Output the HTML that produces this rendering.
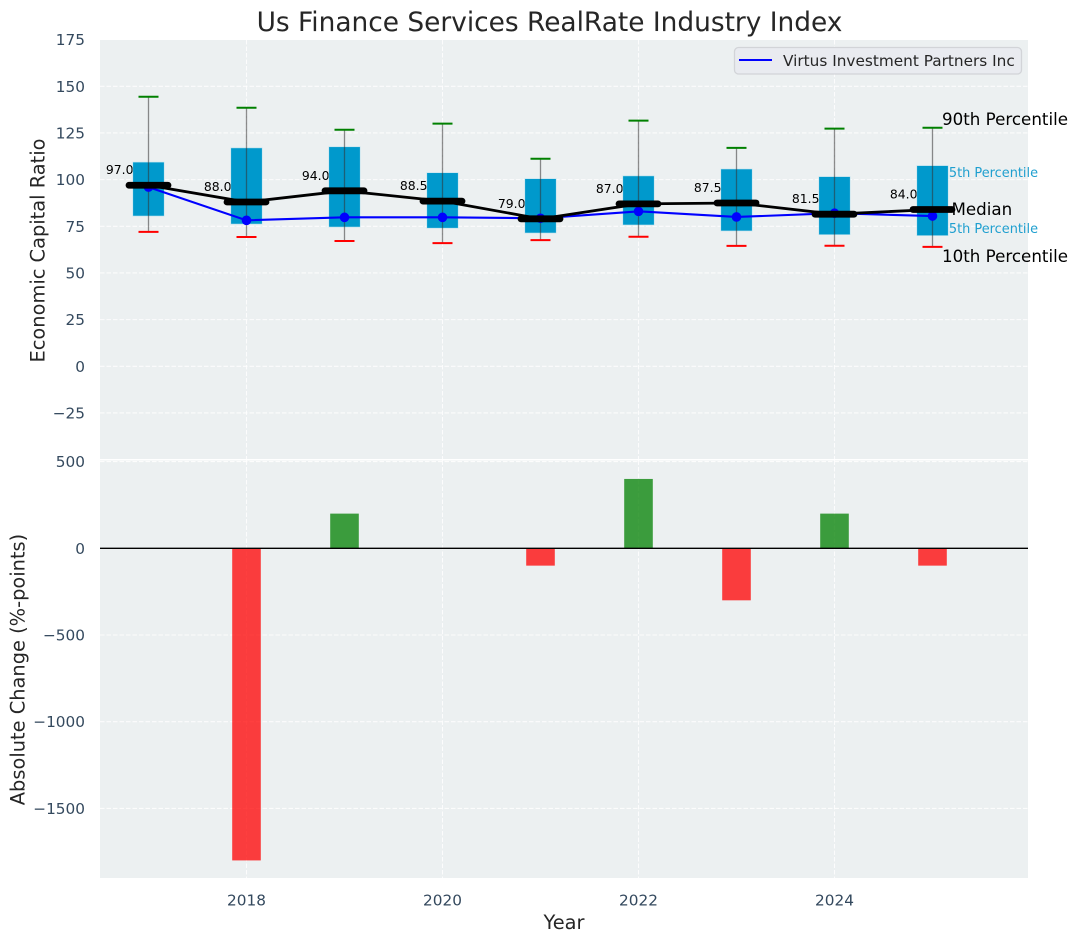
<!DOCTYPE html>
<html lang="en">
<head>
<meta charset="utf-8">
<title>Us Finance Services RealRate Industry Index</title>
<style>
html,body{margin:0;padding:0;background:#fff;}
svg{display:block;font-family:"DejaVu Sans","Liberation Sans",sans-serif;}
</style>
</head>
<body>
<svg id="chart" xmlns="http://www.w3.org/2000/svg" width="1077" height="942" viewBox="0 0 1077 942"></svg>
<script>
const years = [2017, 2018, 2019, 2020, 2021, 2022, 2023, 2024, 2025];
const p90 = [144.4, 138.5, 126.7, 130, 111.2, 131.6, 117, 127.3, 127.8];
const q3 = [109.4, 117, 117.6, 103.7, 100.5, 102, 105.7, 101.6, 107.5];
const medians = [97, 88, 94, 88.5, 79, 87, 87.5, 81.5, 84];
const q1 = [80.5, 76.2, 74.6, 74, 71.4, 75.7, 72.5, 70.5, 70];
const p10 = [72, 69.3, 67.1, 66, 67.6, 69.4, 64.5, 64.6, 64];
const company = [96, 78.2, 79.8, 79.8, 79.3, 83, 80, 82, 80.5];
const changes = [0, -1800, 200, 0, -100, 400, -300, 200, -100];
const topTicks = [175, 150, 125, 100, 75, 50, 25, 0, -25];
const bottomTicks = [500, 0, -500, -1000, -1500];
const yearTicks = [2018, 2020, 2022, 2024];

const svg = document.getElementById('chart');
const NS = 'http://www.w3.org/2000/svg';
const X = v => 148.5 + (v - 2017) * 98;
const Y1 = v => 366.3 - v * 1.8667;
const Y2 = v => 548.3 - v * 0.1734;
const L = 100, R = 1028;

function mk(tag, attrs, text) {
  const el = document.createElementNS(NS, tag);
  for (const k in attrs) el.setAttribute(k, attrs[k]);
  if (text !== undefined) el.textContent = text;
  svg.appendChild(el);
  return el;
}
function label(x, y, text, size, fill, anchor, rotate) {
  const attrs = {x: x, y: y, 'font-size': size, fill: fill, 'text-anchor': anchor || 'start'};
  if (rotate) attrs.transform = 'rotate(-90 ' + x + ' ' + y + ')';
  return mk('text', attrs, text);
}
const GRID = {stroke: '#ffffff', 'stroke-width': 1.1, 'stroke-dasharray': '4.5 2', opacity: 0.85};
const TICK = '#34495e';
const TEXT = '#262626';
let el;

el = mk('rect', {x: L, y: 40, width: R - L, height: 419, fill: '#ecf0f1'});


el = mk('rect', {x: L, y: 460.5, width: R - L, height: 417.5, fill: '#ecf0f1'});



topTicks.forEach(t => {
  if (t !== 175) {
    el = mk('line', Object.assign({x1: L, x2: R, y1: Y1(t), y2: Y1(t)}, GRID));
    
    
  }
  el = label(85, Y1(t) + 5.5, String(t).replace('-', '\u2212'), 15.3, TICK, 'end');
  
  
});
bottomTicks.forEach(t => {
  el = mk('line', Object.assign({x1: L, x2: R, y1: Y2(t), y2: Y2(t)}, GRID));
  
  
  el = label(85, Y2(t) + 5.5, String(t).replace('-', '\u2212'), 15.3, TICK, 'end');
  
  
});
yearTicks.forEach(t => {
  el = mk('line', Object.assign({x1: X(t), x2: X(t), y1: 40, y2: 459}, GRID));
  
  
  el = mk('line', Object.assign({x1: X(t), x2: X(t), y1: 460.5, y2: 878}, GRID));
  
  
  el = label(X(t), 905.5, String(t), 15.3, TICK, 'middle');
  
  
});

/* text that sits beneath the boxes */
const last = years.length - 1;
const lastX = X(years[last]);
medians.forEach((m, i) => {
  el = label(X(years[i]) - 15, Y1(m) - 11, m.toFixed(1), 12.4, '#000000', 'end');
  
  
});
el = label(lastX + 8.2, Y1(q3[last]) + 11.3, '75th Percentile', 12.9, '#1f9fcf');


el = label(lastX + 8.2, Y1(q1[last]) - 2.7, '25th Percentile', 12.9, '#1f9fcf');



/* interquartile boxes */
years.forEach((y, i) => {
  el = mk('rect', {x: X(y) - 15.7, y: Y1(q3[i]), width: 31.4, height: Y1(q1[i]) - Y1(q3[i]), fill: '#0099cc', stroke: '#bfe3ee', 'stroke-width': 0.6});
  
  
});
/* whiskers and caps */
years.forEach((y, i) => {
  el = mk('line', {x1: X(y), x2: X(y), y1: Y1(p90[i]), y2: Y1(p10[i]), stroke: '#333333', 'stroke-width': 1.3, opacity: 0.55});
  
  
  el = mk('line', {x1: X(y) - 10, x2: X(y) + 10, y1: Y1(p90[i]), y2: Y1(p90[i]), stroke: '#008000', 'stroke-width': 2});
  
  
  el = mk('line', {x1: X(y) - 10, x2: X(y) + 10, y1: Y1(p10[i]), y2: Y1(p10[i]), stroke: '#ff0000', 'stroke-width': 2});
  
  
});
/* company line */
el = mk('polyline', {points: years.map((y, i) => X(y) + ',' + Y1(company[i])).join(' '), fill: 'none', stroke: '#0000ff', 'stroke-width': 2.1});


years.forEach((y, i) => {
  el = mk('circle', {cx: X(y), cy: Y1(company[i]), r: 4.8, fill: '#0000ff'});
  
  
});
/* median line */
el = mk('polyline', {points: years.map((y, i) => X(y) + ',' + Y1(medians[i])).join(' '), fill: 'none', stroke: '#000000', 'stroke-width': 2.8});


years.forEach((y, i) => {
  el = mk('line', {x1: X(y) - 19.5, x2: X(y) + 19.5, y1: Y1(medians[i]), y2: Y1(medians[i]), stroke: '#000000', 'stroke-width': 6.8, 'stroke-linecap': 'round'});
  
  
});

/* right-hand annotations */
el = label(lastX + 9.5, Y1(p90[last]) - 2.7, '90th Percentile', 16.7, '#000000');


el = label(lastX + 19, Y1(medians[last]) + 5.5, 'Median', 16.7, '#000000');


el = label(lastX + 9.5, Y1(p10[last]) + 15.3, '10th Percentile', 16.7, '#000000');



/* change bars */
changes.forEach((c, i) => {
  if (c === 0) return;
  const top = Math.min(Y2(0), Y2(c));
  const h = Math.abs(Y2(c) - Y2(0));
  el = mk('rect', {x: X(years[i]) - 14.3, y: top, width: 28.6, height: h, fill: c < 0 ? '#ff0000' : '#008000', 'fill-opacity': 0.75});
  
  
});
el = mk('line', {x1: L, x2: R, y1: Y2(0), y2: Y2(0), stroke: '#000000', 'stroke-width': 1.3});



/* legend */
el = mk('rect', {x: 734.5, y: 47.5, width: 287, height: 26.5, rx: 4, fill: '#e9ebf0', stroke: '#d2d4d8', 'stroke-width': 1.3});


el = mk('line', {x1: 739, x2: 772, y1: 60, y2: 60, stroke: '#0000ff', 'stroke-width': 2.1});


el = label(783, 66, 'Virtus Investment Partners Inc', 15.3, TEXT);



/* titles */
el = label(549.5, 31, 'Us Finance Services RealRate Industry Index', 26.4, TEXT, 'middle');


el = label(564, 929, 'Year', 19.4, TEXT, 'middle');


el = label(44.5, 250.5, 'Economic Capital Ratio', 19.4, TEXT, 'middle', true);


el = label(24.5, 669.5, 'Absolute Change (%-points)', 19.4, TEXT, 'middle', true);


</script>
</body>
</html>
